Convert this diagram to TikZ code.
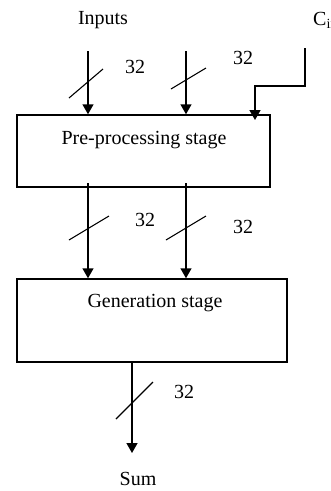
\documentclass[tikz,border=0pt]{standalone}
\usepackage{fontspec}
\setmainfont{Liberation Serif}
\usetikzlibrary{arrows.meta}
\begin{document}
\begin{tikzpicture}[x=1pt,y=-1pt,
  lbl/.style={font=\fontsize{20}{23}\selectfont, inner sep=0pt},
  stagebox/.style={draw, line width=1.5pt, inner sep=0pt},
  arr/.style={line width=1.5pt, -{Triangle[width=11pt,length=10pt]}},
  slash/.style={line width=1.1pt}]
\useasboundingbox (0,0) rectangle (331,491);
% boxes
\node[stagebox, minimum width=253pt, minimum height=72pt] (pre) at (143.5,151) {};
\node[stagebox, minimum width=270pt, minimum height=83pt] (gen) at (152,320.5) {};
\node[lbl] (pretxt) at (144,140) {Pre-processing stage};
\node[lbl] (gentxt) at (155,303) {Generation stage};
% texts
\node[lbl] (inputs) at (103,20) {Inputs};
\node[lbl, anchor=west] (cin) at (313,20) {C\textsubscript{in}};
\node[lbl] (sum) at (138,479) {Sum};
% free ends
\coordinate (a1) at (88,51);
\coordinate (a2) at (186,51);
\coordinate (c1) at (305,48);
\coordinate (c2) at (305,86);
\coordinate (c3) at (255,86);
\coordinate (c4) at (255,120);
\coordinate (m1) at (88,183);
\coordinate (m2) at (186,183);
\coordinate (s1) at (132,362);
\coordinate (s2) at (132,453);
% connectors
\draw[arr] (a1) -- (a1 |- pre.north);
\draw[arr] (a2) -- (a2 |- pre.north);
\draw[arr] (c1) -- (c2) -- (c3) -- (c4);
\draw[arr] (m1) -- (m1 |- gen.north);
\draw[arr] (m2) -- (m2 |- gen.north);
\draw[arr] (s1) -- (s2);
% bus slashes
\draw[slash] (69,98) -- (103,69);
\draw[slash] (171,89) -- (206,68);
\draw[slash] (69,240) -- (109,216);
\draw[slash] (166,240) -- (206,216);
\draw[slash] (116,419) -- (153,382);
% widths
\node[lbl] (w1) at (135,67) {32};
\node[lbl] (w2) at (243,58) {32};
\node[lbl] (w3) at (145,220) {32};
\node[lbl] (w4) at (243,227) {32};
\node[lbl] (w5) at (184,392) {32};
\end{tikzpicture}
\end{document}
